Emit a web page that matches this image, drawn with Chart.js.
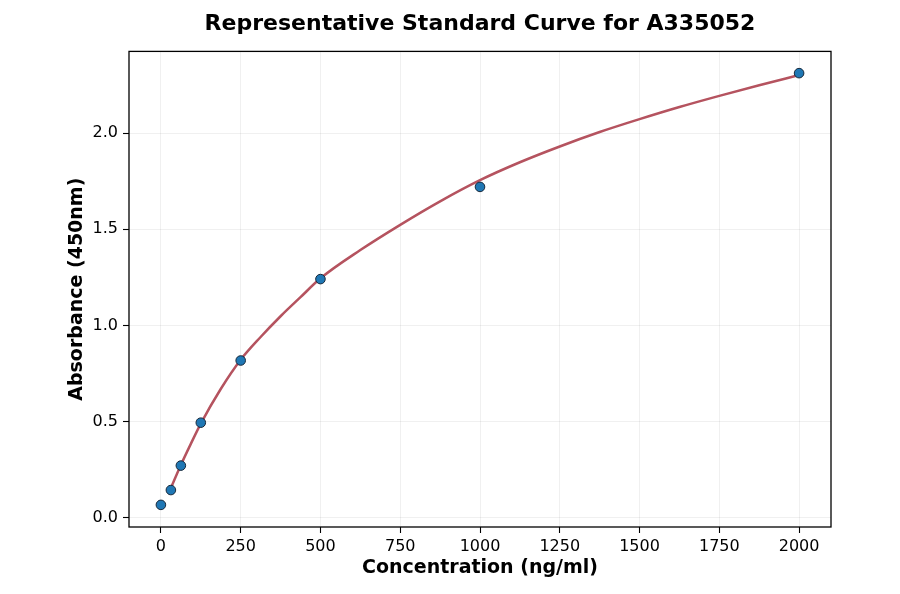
<!DOCTYPE html>
<html>
<head>
<meta charset="utf-8">
<script src="https://cdn.jsdelivr.net/npm/chart.js@4.4.0/dist/chart.umd.min.js"></script>
<style>
html,body{margin:0;padding:0;background:#ffffff;}
#wrap{width:900px;height:594px;position:relative;}
</style>
</head>
<body>
<div id="wrap"><canvas id="c" width="900" height="594"></canvas></div>
<script>
// Standards (measured points)
const concentrations = [0, 31.25, 62.5, 125, 250, 500, 1000, 2000];
const absorbance = [0.068, 0.145, 0.272, 0.495, 0.818, 1.241, 1.720, 2.311];

// Fitted curve
const fitConcentrations = [31.25, 62.5, 93.75, 125, 187.5, 250, 312.5, 375, 437.5, 500, 625, 750, 875, 1000, 1125, 1250, 1375, 1500, 1625, 1750, 1875, 2000];
const fitAbsorbance = [0.155, 0.275, 0.385, 0.49, 0.67, 0.822, 0.94, 1.048, 1.147, 1.245, 1.392, 1.523, 1.645, 1.755, 1.848, 1.93, 2.005, 2.072, 2.135, 2.193, 2.248, 2.301];

// Axis ticks
const xTickValues = [0, 250, 500, 750, 1000, 1250, 1500, 1750, 2000];
const xTickLabels = ['0', '250', '500', '750', '1000', '1250', '1500', '1750', '2000'];
const yTickValues = [0, 0.5, 1.0, 1.5, 2.0];
const yTickLabels = ['0.0', '0.5', '1.0', '1.5', '2.0'];

const titleText = 'Representative Standard Curve for A335052';
const xTitle = 'Concentration (ng/ml)';
const yTitle = 'Absorbance (450nm)';

const FONT = "'DejaVu Sans', sans-serif";

const framePlugin = {
  id: 'frame',
  afterDraw(chart) {
    const {ctx, chartArea: a} = chart;
    ctx.save();
    ctx.strokeStyle = '#000';
    ctx.lineWidth = 1.3;
    ctx.strokeRect(a.left, a.top, a.right - a.left, a.bottom - a.top);
    ctx.restore();
  }
};

new Chart(document.getElementById('c'), {
  type: 'scatter',
  data: {
    datasets: [
      {
        label: 'Standards',
        data: concentrations.map((x, i) => ({x: x, y: absorbance[i]})),
        backgroundColor: '#1f77b4',
        borderColor: '#17283a',
        borderWidth: 1,
        pointRadius: 4.8,
        showLine: false,
        order: 0
      },
      {
        label: 'Fit',
        data: fitConcentrations.map((x, i) => ({x: x, y: fitAbsorbance[i]})),
        showLine: true,
        borderColor: '#b5535f',
        borderWidth: 2.5,
        pointRadius: 0,
        fill: false,
        cubicInterpolationMode: 'monotone',
        order: 1
      }
    ]
  },
  options: {
    responsive: false,
    animation: false,
    devicePixelRatio: 1,
    layout: { padding: { left: 66, right: 69, top: 0, bottom: 15 } },
    plugins: {
      legend: { display: false },
      tooltip: { enabled: false },
      title: {
        display: true,
        text: titleText,
        fullSize: false,
        color: '#000',
        font: { family: FONT, size: 22, weight: 'bold', lineHeight: 1.2 },
        padding: { top: 11, bottom: 14 }
      }
    },
    scales: {
      x: {
        type: 'linear',
        min: -100,
        max: 2100,
        afterBuildTicks: (axis) => { axis.ticks = xTickValues.map(v => ({value: v})); },
        afterFit: (scale) => { scale.height = 52; },
        ticks: {
          color: '#000',
          font: { family: FONT, size: 16 },
          padding: 4,
          maxRotation: 0,
          autoSkip: false,
          callback: (v, i) => xTickLabels[i]
        },
        grid: {
          color: 'rgba(0,0,0,0.08)',
          lineWidth: 0.8,
          tickColor: '#000',
          tickLength: 6,
          tickWidth: 1.1
        },
        border: { display: false },
        title: {
          display: true,
          text: xTitle,
          color: '#000',
          font: { family: FONT, size: 19, weight: 'bold', lineHeight: 1.2 },
          padding: { top: 0, bottom: 0 }
        }
      },
      y: {
        type: 'linear',
        min: -0.047,
        max: 2.424,
        afterBuildTicks: (axis) => { axis.ticks = yTickValues.map(v => ({value: v})); },
        afterFit: (scale) => { scale.width = 63; },
        ticks: {
          color: '#000',
          font: { family: FONT, size: 16 },
          padding: 5,
          autoSkip: false,
          callback: (v, i) => yTickLabels[i]
        },
        grid: {
          color: 'rgba(0,0,0,0.08)',
          lineWidth: 0.8,
          tickColor: '#000',
          tickLength: 6,
          tickWidth: 1.1
        },
        border: { display: false },
        title: {
          display: true,
          text: yTitle,
          color: '#000',
          font: { family: FONT, size: 19, weight: 'bold', lineHeight: 1.2 },
          padding: { top: 0, bottom: 0 }
        }
      }
    }
  },
  plugins: [framePlugin]
});
</script>
</body>
</html>
